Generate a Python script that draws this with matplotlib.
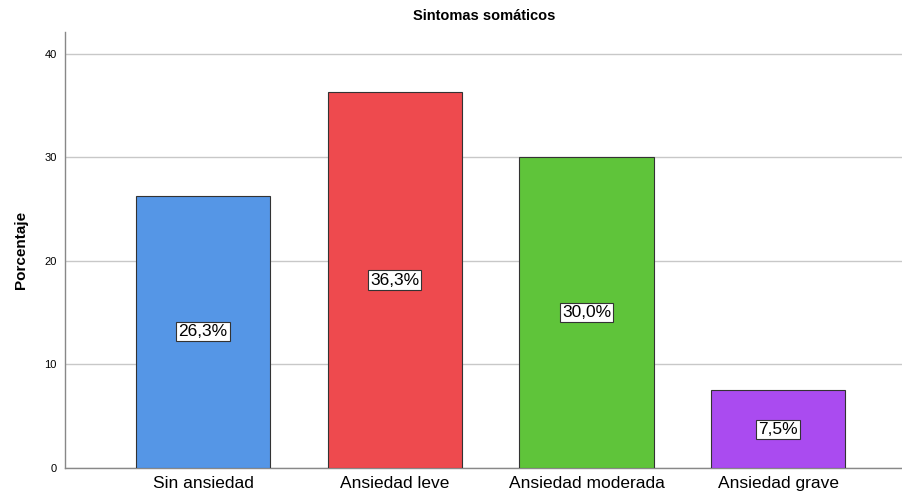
import matplotlib.pyplot as plt

plt.rcParams['font.family'] = ['Liberation Sans', 'DejaVu Sans']

categorias = ['Sin ansiedad', 'Ansiedad leve', 'Ansiedad moderada', 'Ansiedad grave']
porcentajes = [26.3, 36.3, 30.0, 7.5]
etiquetas = ['26,3%', '36,3%', '30,0%', '7,5%']
colores = ['#5596e6', '#ee4a4e', '#5fc43a', '#aa4bf0']
yticks = [0, 10, 20, 30, 40]

fig = plt.figure(figsize=(9.03, 4.97), dpi=100)
ax = fig.add_axes([0.072, 0.0584, 0.928, 0.8772])

x = range(len(categorias))
ax.bar(x, porcentajes, width=0.7, color=colores, edgecolor='#333333',
       linewidth=0.8, zorder=3)

for xi, v, t in zip(x, porcentajes, etiquetas):
    ax.text(xi, v / 2, t, ha='center', va='center', fontsize=12.5, zorder=4,
            bbox=dict(boxstyle='square,pad=0.12', fc='white', ec='#333333', lw=0.8))

ax.set_xlim(-0.72, 3.65)
ax.set_ylim(0, 42.1)
ax.set_yticks(yticks)
ax.set_xticks(list(x))
ax.set_xticklabels(categorias, fontsize=12.5)
ax.tick_params(axis='y', labelsize=8, length=0, pad=6)
ax.tick_params(axis='x', length=0, pad=6)
ax.yaxis.grid(True, color='#c8c8c8', linewidth=1, zorder=0)

for s in ['top', 'right']:
    ax.spines[s].set_visible(False)
for s in ['left', 'bottom']:
    ax.spines[s].set_color('#888888')
    ax.spines[s].set_linewidth(1)

ax.set_title('Sintomas somáticos', fontsize=10.5, fontweight='bold', pad=9)
ax.set_ylabel('Porcentaje', fontsize=11, fontweight='bold', labelpad=12)

fig.savefig('out.png', dpi=100)
